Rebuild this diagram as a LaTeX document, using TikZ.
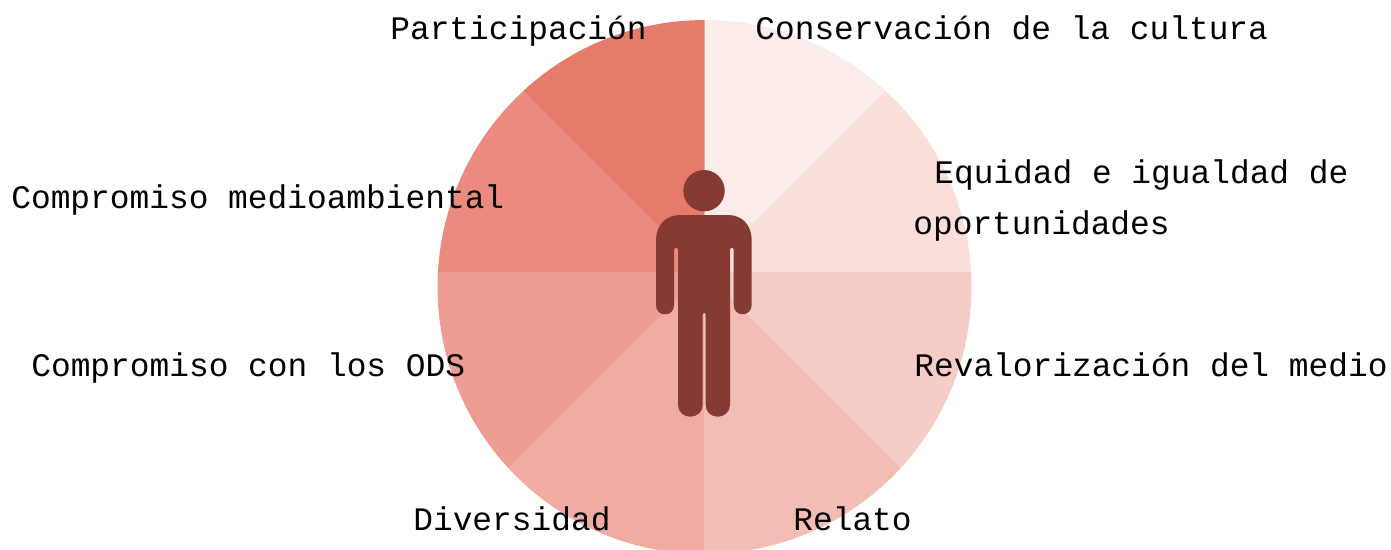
\documentclass[tikz,border=0pt]{standalone}
\usepackage{fontspec}
\setmainfont{Liberation Mono}
\definecolor{sectorA}{HTML}{FBECEA}
\definecolor{sectorB}{HTML}{F9DEDA}
\definecolor{sectorC}{HTML}{F5CCC6}
\definecolor{sectorD}{HTML}{F3BDB6}
\definecolor{sectorE}{HTML}{F0ACA3}
\definecolor{sectorF}{HTML}{ED9D92}
\definecolor{sectorG}{HTML}{EB8A7E}
\definecolor{sectorH}{HTML}{E67B6C}
\definecolor{figura}{HTML}{863A34}
\tikzset{etiqueta/.style={anchor=base west,inner sep=0pt,text=black,align=left,font=\fontsize{18.7pt}{28.9pt}\selectfont}}
\begin{document}
\begin{tikzpicture}[x=0.02cm,y=-0.02cm]
            \useasboundingbox (0,0) rectangle (1391,549);

            \begin{scope}
            \clip (0,0) rectangle (1391,549);
            \clip (704.5,287) circle (5.34cm);
            \foreach \ang/\col in {-90/sectorA,-45/sectorB,0/sectorC,45/sectorD,90/sectorE,135/sectorF,180/sectorG,225/sectorH}{
                \fill[\col] (704.5,272) -- ++(\ang:600) -- ++(\ang+90:600) -- cycle;
            }
            \end{scope}

            % figura
            \fill[figura] (704,190.7) circle (0.414cm);
            \fill[figura] (680,215) -- (728,215)
                .. controls (742,215) and (751.7,225) .. (751.7,240) -- (751.7,305)
                .. controls (751.7,311) and (747,314.3) .. (742.7,314.3)
                .. controls (738,314.3) and (733.7,311) .. (733.7,305) -- (733.7,250)
                .. controls (733.7,247) and (730,247) .. (730,250) -- (730,405)
                .. controls (730,412) and (724,416.7) .. (718,416.7)
                .. controls (711,416.7) and (705.7,412) .. (705.7,405) -- (705.7,315)
                .. controls (705.7,312) and (702.7,312) .. (702.7,315) -- (702.7,405)
                .. controls (702.7,412) and (697,416.7) .. (690,416.7)
                .. controls (684,416.7) and (678,412) .. (678,405) -- (678,250)
                .. controls (678,247) and (674,247) .. (674,250) -- (674,305)
                .. controls (674,311) and (670,314.3) .. (665,314.3)
                .. controls (660,314.3) and (656,311) .. (656,305) -- (656,240)
                .. controls (656,225) and (666,215) .. (680,215) -- cycle;

            \node[etiqueta] (participacion) at (390,39.5) {Participación};
            \node[etiqueta] (conservacion) at (755,39.5) {Conservación de la cultura};
            \node[etiqueta] (equidad) at (913,234.5) {\hspace*{11.95pt}Equidad e igualdad de\\oportunidades};
            \node[etiqueta] (medioambiental) at (11,208.5) {Compromiso medioambiental};
            \node[etiqueta] (ods) at (31,376.5) {Compromiso con los ODS};
            \node[etiqueta] (revalorizacion) at (914,376.5) {Revalorización del medio};
            \node[etiqueta] (diversidad) at (413,530.5) {Diversidad};
            \node[etiqueta] (relato) at (793,530.5) {Relato};
\end{tikzpicture}
\end{document}
